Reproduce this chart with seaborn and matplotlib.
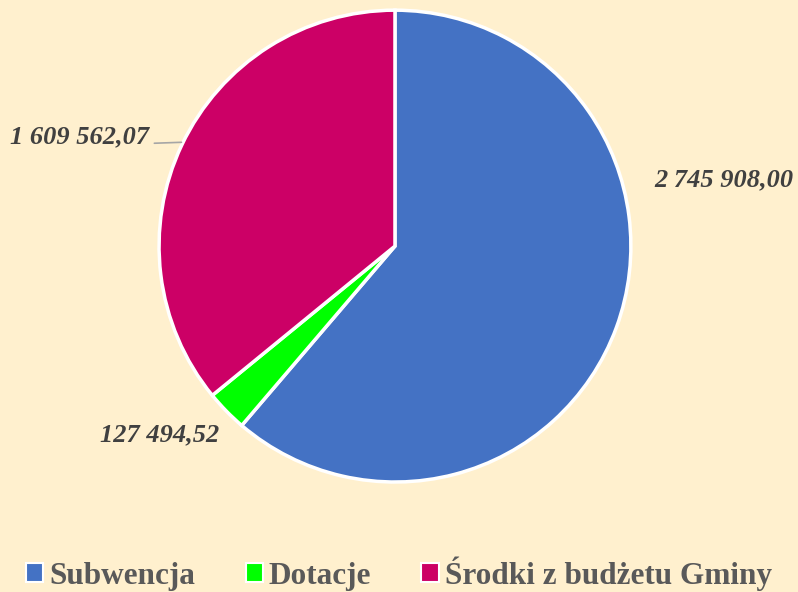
import matplotlib
matplotlib.use("Agg")
import matplotlib.pyplot as plt
import seaborn as sns
from matplotlib.patches import Patch

categories = ["Subwencja", "Dotacje", "Środki z budżetu Gminy"]
values = [2745908.00, 127494.52, 1609562.07]
value_labels = ["2 745 908,00", "127 494,52", "1 609 562,07"]
colors = ["#4472C4", "#00FF00", "#CC0066"]

sns.set_theme(style="white")
plt.rcParams['font.family'] = ['Liberation Serif', 'DejaVu Serif']

bg = "#FFF0CE"
fig = plt.figure(figsize=(7.98, 5.92), dpi=100, facecolor=bg)
ax = fig.add_axes([0.1992, 0.1858, 0.5915, 0.797])
ax.set_facecolor(bg)

wedges, _ = ax.pie(values, colors=colors, startangle=90, counterclock=False,
                   radius=1.0, wedgeprops=dict(edgecolor="white", linewidth=2.5))
ax.set_xlim(-1, 1)
ax.set_ylim(-1, 1)
ax.set_aspect("equal")
ax.axis("off")

label_pos = [(1.395, 0.28), (-0.996, -0.80), (-1.335, 0.462)]
for (x, y), t in zip(label_pos, value_labels):
    ax.text(x, y, t, ha="center", va="center", fontsize=19, fontstyle="italic",
            fontweight="bold", color="#404040", clip_on=False)
# leader line for Środki label
ax.plot([-1.02, -0.905], [0.436, 0.44], color="#A6A6A6", lw=1.2, clip_on=False)

handles = [Patch(facecolor=c, edgecolor="white", linewidth=1.5) for c in colors]
leg = fig.legend(handles, categories, loc="lower center", bbox_to_anchor=(0.5, -0.045),
                 ncol=3, frameon=False, prop=dict(size=22.5, weight="bold"),
                 handlelength=0.55, handleheight=0.55, handletextpad=0.2, columnspacing=1.6,
                 labelcolor="#595959")

fig.savefig("out.png", dpi=100, facecolor=bg)
